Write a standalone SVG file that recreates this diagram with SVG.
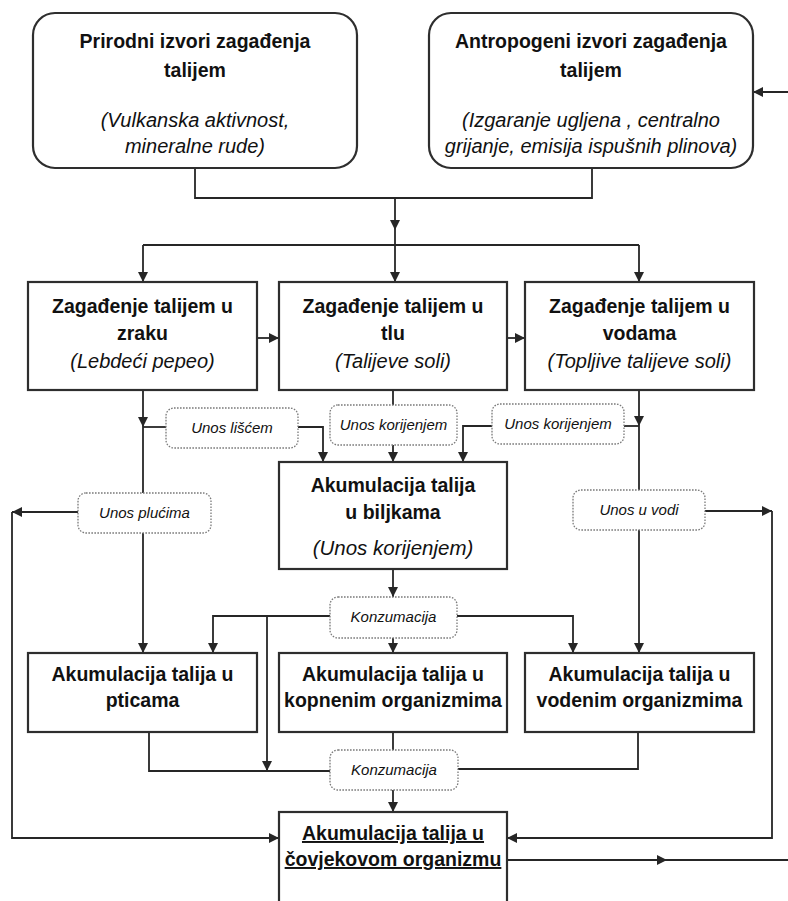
<svg xmlns="http://www.w3.org/2000/svg" width="788" height="901" viewBox="0 0 788 901">
<defs>
<marker id="ah" markerUnits="userSpaceOnUse" markerWidth="11" markerHeight="10" refX="10" refY="5" orient="auto">
<path d="M0,0 L10,5 L0,10 z" fill="#262626"/>
</marker>
<style>
.box{fill:#fff;stroke:#2e2e2e;stroke-width:2.2}
.lbl{fill:#fff;stroke:#7a7a7a;stroke-width:1.3;stroke-dasharray:1.6 1.4}
.c{fill:none;stroke:#262626;stroke-width:1.8}
.a{fill:none;stroke:#262626;stroke-width:1.8;marker-end:url(#ah)}
.b{font-family:"Liberation Sans",Arial,sans-serif;font-weight:bold;font-size:19.5px;fill:#111;text-anchor:middle}
.i{font-family:"Liberation Sans",Arial,sans-serif;font-style:italic;font-size:20px;fill:#111;text-anchor:middle}
.s{font-family:"Liberation Sans",Arial,sans-serif;font-style:italic;font-size:15px;fill:#111;text-anchor:middle}
</style>
</defs>
<rect width="788" height="901" fill="#fff"/>

<g id="connectors">
<path class="c" d="M195,168 V198 H592 V168"/>
<path class="a" d="M395,198 V230"/>
<path class="a" d="M395,230 V282"/>
<path class="c" d="M143,245 H639"/>
<path class="a" d="M143,245 V282"/>
<path class="a" d="M639,245 V282"/>
<path class="a" d="M788,92 H753"/>
<path class="a" d="M257,338 H279"/>
<path class="a" d="M507,338 H525"/>
<path class="a" d="M143,390 V427"/>
<path class="a" d="M143,427 V653"/>
<path class="c" d="M143,427 H166"/>
<path class="a" d="M298,427 H323 V462"/>
<path class="c" d="M393,390 V405"/>
<path class="a" d="M393,445 V462"/>
<path class="a" d="M639,390 V426"/>
<path class="a" d="M639,426 V653"/>
<path class="c" d="M639,426 H624"/>
<path class="a" d="M492,426 H463 V462"/>
<path class="a" d="M78,512 H12"/>
<path class="a" d="M12,512 V838 H279"/>
<path class="a" d="M705,511 H772"/>
<path class="a" d="M772,511 V838 H507"/>
<path class="a" d="M393,569 V597"/>
<path class="a" d="M393,638 V653"/>
<path class="a" d="M330,616 H213 V653"/>
<path class="a" d="M457,616 H573 V653"/>
<path class="a" d="M267,616 V771"/>
<path class="c" d="M149,732 V771 H330"/>
<path class="c" d="M393,732 V750"/>
<path class="c" d="M638,732 V769 H458"/>
<path class="a" d="M393,790 V812"/>
<path class="a" d="M507,860 H667"/>
<path class="c" d="M667,860 H788"/>
</g>

<g id="n-prirodni">
<rect class="box" x="33" y="13" width="324" height="155" rx="22"/>
<text class="b" x="195" y="48">Prirodni izvori zagađenja</text>
<text class="b" x="195" y="77">talijem</text>
<text class="i" x="195" y="127">(Vulkanska aktivnost,</text>
<text class="i" x="195" y="153">mineralne rude)</text>
</g>
<g id="n-antropogeni">
<rect class="box" x="429" y="13" width="324" height="155" rx="22"/>
<text class="b" x="591" y="48">Antropogeni izvori zagađenja</text>
<text class="b" x="591" y="77">talijem</text>
<text class="i" x="591" y="127">(Izgaranje ugljena , centralno</text>
<text class="i" x="591" y="153">grijanje, emisija ispušnih plinova)</text>
</g>
<g id="n-zrak">
<rect class="box" x="28" y="282" width="229" height="108"/>
<text class="b" x="142.5" y="313">Zagađenje talijem u</text>
<text class="b" x="142.5" y="340">zraku</text>
<text class="i" x="142.5" y="368">(Lebdeći pepeo)</text>
</g>
<g id="n-tlo">
<rect class="box" x="279" y="282" width="228" height="108"/>
<text class="b" x="393" y="313">Zagađenje talijem u</text>
<text class="b" x="393" y="340">tlu</text>
<text class="i" x="393" y="368">(Talijeve soli)</text>
</g>
<g id="n-voda">
<rect class="box" x="525" y="282" width="229" height="108"/>
<text class="b" x="639.5" y="313">Zagađenje talijem u</text>
<text class="b" x="639.5" y="340">vodama</text>
<text class="i" x="639.5" y="368">(Topljive talijeve soli)</text>
</g>
<g id="l-liscem">
<rect class="lbl" x="166" y="408" width="132" height="40" rx="8"/>
<text class="s" x="232" y="433">Unos lišćem</text>
</g>
<g id="l-korijenjem1">
<rect class="lbl" x="330" y="405" width="127" height="40" rx="8"/>
<text class="s" x="393.5" y="430">Unos korijenjem</text>
</g>
<g id="l-korijenjem2">
<rect class="lbl" x="492" y="404" width="132" height="40" rx="8"/>
<text class="s" x="558" y="429">Unos korijenjem</text>
</g>
<g id="n-biljke">
<rect class="box" x="279" y="462" width="228" height="107"/>
<text class="b" x="393" y="492">Akumulacija talija</text>
<text class="b" x="393" y="519">u biljkama</text>
<text class="i" x="393" y="555" style="font-size:20.5px">(Unos korijenjem)</text>
</g>
<g id="l-plucima">
<rect class="lbl" x="78" y="493" width="133" height="40" rx="8"/>
<text class="s" x="144.5" y="518">Unos plućima</text>
</g>
<g id="l-vodi">
<rect class="lbl" x="573" y="490" width="132" height="40" rx="8"/>
<text class="s" x="639" y="515">Unos u vodi</text>
</g>
<g id="l-konzumacija1">
<rect class="lbl" x="330" y="597" width="127" height="41" rx="8"/>
<text class="s" x="393.5" y="622">Konzumacija</text>
</g>
<g id="n-ptice">
<rect class="box" x="28" y="653" width="229" height="79"/>
<text class="b" x="142.5" y="681">Akumulacija talija u</text>
<text class="b" x="142.5" y="707">pticama</text>
</g>
<g id="n-kopneni">
<rect class="box" x="279" y="653" width="228" height="79"/>
<text class="b" x="393" y="681">Akumulacija talija u</text>
<text class="b" x="393" y="707">kopnenim organizmima</text>
</g>
<g id="n-vodeni">
<rect class="box" x="525" y="653" width="229" height="79"/>
<text class="b" x="639.5" y="681">Akumulacija talija u</text>
<text class="b" x="639.5" y="707">vodenim organizmima</text>
</g>
<g id="l-konzumacija2">
<rect class="lbl" x="330" y="750" width="128" height="40" rx="8"/>
<text class="s" x="394" y="775">Konzumacija</text>
</g>
<g id="n-covjek">
<rect class="box" x="279" y="812" width="228" height="100"/>
<text class="b" x="393" y="840" text-decoration="underline">Akumulacija talija u</text>
<text class="b" x="393" y="866" text-decoration="underline">čovjekovom organizmu</text>
</g>
</svg>
